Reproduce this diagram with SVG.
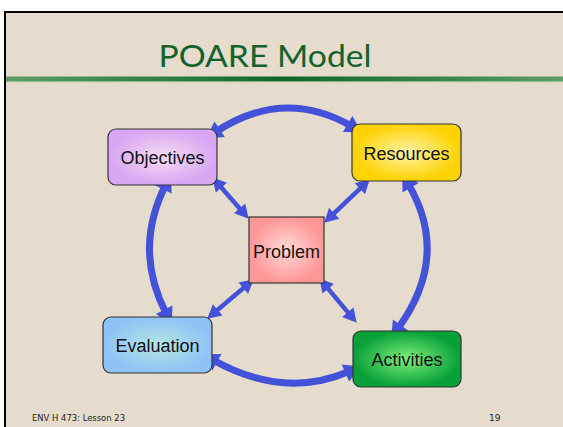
<svg xmlns="http://www.w3.org/2000/svg" width="563" height="427" viewBox="0 0 563 427">
<defs>
<style>
.box{stroke:#333;stroke-width:1.2}
.lbl{font-family:"Liberation Sans",Arial,sans-serif;font-size:18px;fill:#111;text-anchor:middle}
.arc{fill:none;stroke:#4451d9;stroke-width:7}
.diag{fill:none;stroke:#4451d9;stroke-width:4.5}
.foot{font-family:"DejaVu Sans","Liberation Sans",sans-serif;font-size:9px;fill:#222}
</style>
<marker id="big" markerUnits="userSpaceOnUse" markerWidth="20" markerHeight="20" viewBox="0 -8 14 16" refX="4" refY="0" orient="auto-start-reverse">
<path d="M0,-7.5 L13,0 L0,7.5 Z" fill="#4451d9"/>
</marker>
<marker id="sm" markerUnits="userSpaceOnUse" markerWidth="16" markerHeight="16" viewBox="0 -7 13 14" refX="5" refY="0" orient="auto-start-reverse">
<path d="M0,-6.5 L12,0 L0,6.5 Z" fill="#4451d9"/>
</marker>
<linearGradient id="rule" x1="0" x2="1" y1="0" y2="0">
<stop offset="0" stop-color="#5f9c68"/>
<stop offset="0.5" stop-color="#0d6628"/>
<stop offset="1" stop-color="#5f9c68"/>
</linearGradient>
<radialGradient id="gObj"><stop offset="0" stop-color="#f6dcf4"/><stop offset="1" stop-color="#d8a6f3"/></radialGradient>
<radialGradient id="gRes"><stop offset="0" stop-color="#fff4a8"/><stop offset="1" stop-color="#ffd200"/></radialGradient>
<radialGradient id="gPro"><stop offset="0" stop-color="#ffdada"/><stop offset="1" stop-color="#ff9796"/></radialGradient>
<radialGradient id="gEva"><stop offset="0" stop-color="#b4e6e6"/><stop offset="1" stop-color="#8fc3f5"/></radialGradient>
<radialGradient id="gAct"><stop offset="0" stop-color="#7cf07a"/><stop offset="1" stop-color="#08a038"/></radialGradient>
</defs>
<rect x="0" y="0" width="563" height="427" fill="#ffffff"/>
<rect x="5" y="12" width="560" height="420" fill="#e5dccd"/>
<path d="M5,427 L5,12 L563,12" fill="none" stroke="#000" stroke-width="2"/>
<text x="265" y="67" font-family="Lato,'Noto Sans',sans-serif" font-size="31" fill="#13622c" text-anchor="middle" textLength="213" lengthAdjust="spacingAndGlyphs">POARE Model</text>
<rect x="6" y="76.5" width="557" height="5" fill="url(#rule)"/>
<rect x="6" y="81" width="557" height="1.2" fill="#8fbf92" opacity="0.7"/>

<g id="connectors">
<path class="arc" d="M215.5,132 Q284,87 352,126.5" marker-start="url(#big)" marker-end="url(#big)"/>
<path class="arc" d="M165.6,184.9 Q133,250 166.5,314.2" marker-start="url(#big)" marker-end="url(#big)"/>
<path class="arc" d="M408,183.5 Q451,256 397.6,329" marker-start="url(#big)" marker-end="url(#big)"/>
<path class="arc" d="M212.6,359.8 Q284,400 350,371" marker-start="url(#big)" marker-end="url(#big)"/>
<path class="diag" d="M217.6,183.3 L243.4,212.7" marker-start="url(#sm)" marker-end="url(#sm)"/>
<path class="diag" d="M364,184.8 L330,217.2" marker-start="url(#sm)" marker-end="url(#sm)"/>
<path class="diag" d="M247.7,284.5 L213.3,313.5" marker-start="url(#sm)" marker-end="url(#sm)"/>
<path class="diag" d="M324.5,284.4 L351.5,316.6" marker-start="url(#sm)" marker-end="url(#sm)"/>
</g>

<g id="objectives">
<rect class="box" x="108" y="129" width="109" height="56" rx="8" fill="url(#gObj)"/>
<text class="lbl" x="162.5" y="164">Objectives</text>
</g>
<g id="resources">
<rect class="box" x="352" y="124" width="109" height="57" rx="8" fill="url(#gRes)"/>
<text class="lbl" x="406.5" y="160">Resources</text>
</g>
<g id="problem">
<rect class="box" x="249" y="217" width="75" height="66" fill="url(#gPro)"/>
<text class="lbl" x="286.5" y="257.5">Problem</text>
</g>
<g id="evaluation">
<rect class="box" x="103" y="317" width="109" height="56" rx="8" fill="url(#gEva)"/>
<text class="lbl" x="157.5" y="351.5">Evaluation</text>
</g>
<g id="activities">
<rect class="box" x="353" y="331" width="108" height="56" rx="8" fill="url(#gAct)"/>
<text class="lbl" x="407" y="366">Activities</text>
</g>

<text class="foot" x="32" y="421" textLength="93" lengthAdjust="spacingAndGlyphs">ENV H 473: Lesson 23</text>
<text class="foot" x="489" y="421">19</text>
</svg>
